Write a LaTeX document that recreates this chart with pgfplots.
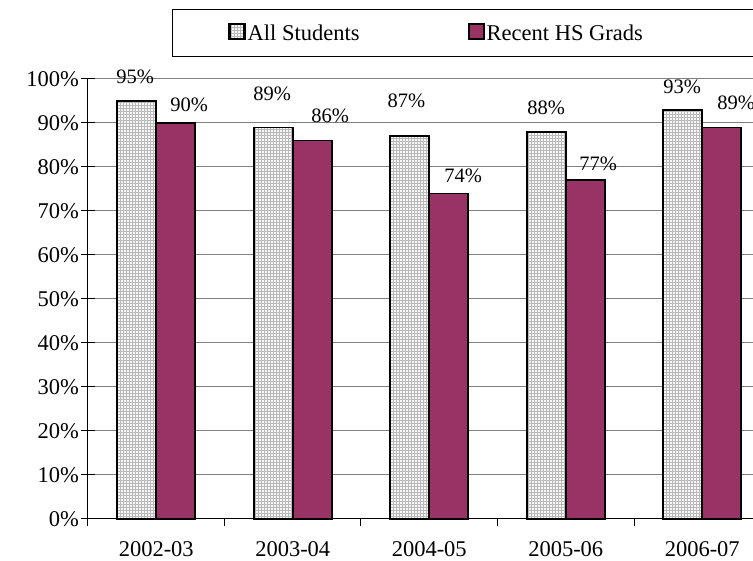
\documentclass[border=0pt]{standalone}
\usepackage{fontspec}
\setmainfont{Liberation Serif}
\usepackage{pgfplots}
\pgfplotsset{compat=1.18}
\usetikzlibrary{patterns}
\definecolor{plum}{RGB}{153,51,102}
\newcommand\tickf{\fontsize{22.5}{26}\selectfont}
\newcommand\legf{\fontsize{22.5}{26}\selectfont}
\newcommand\labf{\fontsize{20.5}{24}\selectfont}
\begin{document}
\begin{tikzpicture}
\begin{axis}[
  at={(0pt,0pt)}, anchor=south west,
  scale only axis, width=682.5pt, height=440pt,
  xmin=-0.5, xmax=4.5, ymin=0, ymax=100,
  axis lines*=left,
  axis line style={black, line width=1pt},
  ytick={0,10,...,100},
  yticklabels={0\%,10\%,20\%,30\%,40\%,50\%,60\%,70\%,80\%,90\%,100\%},
  ymajorgrids, grid style={gray, line width=1pt},
  ytick style={black, line width=1pt},
  y tick label style={font=\tickf, inner xsep=2pt},
  ytick align=center, major tick length=14pt,
  xtick={0,1,2,3,4},
  xticklabels={2002-03,2003-04,2004-05,2005-06,2006-07},
  x tick label style={font=\tickf, yshift=-19pt},
  xtick style={draw=none},
  extra x ticks={-0.5,0.5,1.5,2.5,3.5,4.5},
  extra x tick labels={},
  extra x tick style={xtick style={draw=black, line width=1pt}, xtick align=outside, major tick length=7pt, grid=none},
  clip=false,
  legend columns=2,
  legend image code/.code={\draw[#1, line width=2.2pt] (0pt,-6pt) rectangle (15pt,9pt);},
  legend style={at={(rel axis cs:0.123,1.159)}, anchor=north west, draw=black, line width=1pt,
    font=\legf, inner xsep=56pt, inner ysep=13pt,
    nodes={inner xsep=2pt},
    /tikz/every even column/.append style={column sep=106pt}},
]
\addplot[ybar, bar width=39pt, bar shift=-19.5pt, draw=black, line width=1.6pt,
  preaction={fill=gray!6}, pattern=grid, pattern color=gray!55]
  coordinates {(0,95) (1,89) (2,87) (3,88) (4,93)};
\addlegendentry{All Students}
\addplot[ybar, bar width=39pt, bar shift=19.5pt, draw=black, line width=1.6pt, fill=plum]
  coordinates {(0,90) (1,86) (2,74) (3,77) (4,89)};
\addlegendentry{\makebox[300pt][l]{Recent HS Grads}}
% data labels
\addplot[draw=none, mark=none, forget plot, point meta=explicit symbolic,
  nodes near coords, every node near coord/.append style={anchor=base, font=\labf, inner sep=0pt, text=black}]
  coordinates {(-0.154,98.9) [95\%] (0.850,95.0) [89\%] (1.832,93.6) [87\%] (2.857,92.0) [88\%] (3.853,96.8) [93\%]};
\addplot[draw=none, mark=none, forget plot, point meta=explicit symbolic,
  nodes near coords, every node near coord/.append style={anchor=base, font=\labf, inner sep=0pt, text=black}]
  coordinates {(0.242,92.7) [90\%] (1.275,90.0) [86\%] (2.249,76.4) [74\%] (3.238,79.1) [77\%] (4.249,93.0) [89\%]};
\end{axis}
\pgfresetboundingbox
\useasboundingbox (-88pt,-42pt) rectangle (665pt,519pt);
\end{tikzpicture}
\end{document}
